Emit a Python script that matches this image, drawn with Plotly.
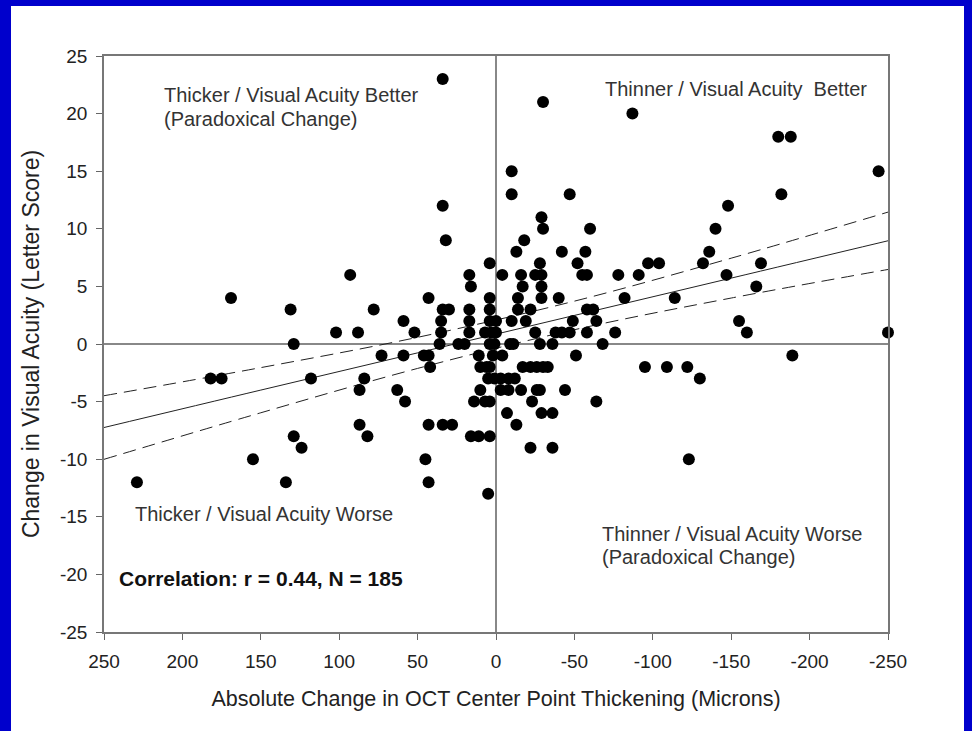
import plotly.graph_objects as go

# Absolute change in OCT center point thickening (microns) and change in
# visual acuity (letter score), one entry per eye.
thickness_change = [
    34,
    -30,
    -87,
    -180, -188,
    -10, -244,
    -10, -47, -182,
    34, -148,
    -29,
    -30, -60, -140,
    32, -18,
    -13, -42, -57, -136,
    4, -28, -52, -97, -104, -132, -169,
    93, 17, -4, -16, -25, -29, -55, -58, -78, -91, -147,
    16, -17, -29, -166,
    169, 43, 4, -14, -29, -40, -82, -114,
    131, 78, 34, 30, 17, 4, -14, -22, -58, -62,
    59, 35, 17, 4, 0, -10, -19, -49, -64, -155,
    102, 88, 52, 35, 17, 7, 3, 0, -25, -38, -42, -47, -58, -76, -160, -250,
    129, 36, 24, 20, 4, 1, -9, -11, -28, -36, -68,
    73, 59, 46, 43, 11, 2, -4, -51, -189,
    42, 10, 6, 4, -17, -22, -26, -30, -33, -95, -109, -122,
    182, 175, 118, 84, 5, 1, -3, -8, -12, -130,
    87, 63, 10, -3, -8, -16, -26, -28, -44,
    58, 14, 7, 4, -23, -64,
    -7, -29, -36,
    87, 43, 34, 28, -13,
    129, 82, 16, 11, 4,
    124, -22, -36,
    155, 45, -123,
    229, 134, 43,
    5,
]
va_change = [
    23,
    21,
    20,
    18, 18,
    15, 15,
    13, 13, 13,
    12, 12,
    11,
    10, 10, 10,
    9, 9,
    8, 8, 8, 8,
    7, 7, 7, 7, 7, 7, 7,
    6, 6, 6, 6, 6, 6, 6, 6, 6, 6, 6,
    5, 5, 5, 5,
    4, 4, 4, 4, 4, 4, 4, 4,
    3, 3, 3, 3, 3, 3, 3, 3, 3, 3,
    2, 2, 2, 2, 2, 2, 2, 2, 2, 2,
    1, 1, 1, 1, 1, 1, 1, 1, 1, 1, 1, 1, 1, 1, 1, 1,
    0, 0, 0, 0, 0, 0, 0, 0, 0, 0, 0,
    -1, -1, -1, -1, -1, -1, -1, -1, -1,
    -2, -2, -2, -2, -2, -2, -2, -2, -2, -2, -2, -2,
    -3, -3, -3, -3, -3, -3, -3, -3, -3, -3,
    -4, -4, -4, -4, -4, -4, -4, -4, -4,
    -5, -5, -5, -5, -5, -5,
    -6, -6, -6,
    -7, -7, -7, -7, -7,
    -8, -8, -8, -8, -8,
    -9, -9, -9,
    -10, -10, -10,
    -12, -12, -12,
    -13,
]

# Regression line and 95% confidence limits, sampled along the x axis
band_x = [250, 150, 50, -50, -150, -250]
fit_y = [-7.25, -4.0, -0.77, 2.48, 5.72, 8.96]
upper_y = [-4.49, -2.05, 0.58, 3.72, 7.45, 11.45]
lower_y = [-10.01, -5.97, -2.12, 1.24, 3.99, 6.47]

x_ticks = [250, 200, 150, 100, 50, 0, -50, -100, -150, -200, -250]
y_ticks = [25, 20, 15, 10, 5, 0, -5, -10, -15, -20, -25]
stat_label = "Correlation: r = 0.44, N = 185"

fig = go.Figure()
fig.add_trace(go.Scatter(x=band_x, y=fit_y, mode="lines",
                         line=dict(color="#222222", width=1, shape="spline"),
                         hoverinfo="skip"))
for band in (upper_y, lower_y):
    fig.add_trace(go.Scatter(x=band_x, y=band, mode="lines",
                             line=dict(color="#222222", width=1, dash="13px,7px",
                                       shape="spline"),
                             hoverinfo="skip"))
fig.add_trace(go.Scatter(x=thickness_change, y=va_change, mode="markers",
                         marker=dict(color="black", size=12, line=dict(width=0)),
                         cliponaxis=False))

L, R, T, B = 104, 888, 56, 632
W, H = 972, 731
pw, ph = R - L, B - T


def px(xp):
    return (xp - L) / pw


def py(yp):
    return (B - yp) / ph


sans = "Liberation Sans, Arial, sans-serif"
text_font = dict(family=sans, size=20, color="#333333")
notes = [
    ("Thicker / Visual Acuity Better", 162, 95),
    ("(Paradoxical Change)", 162, 119),
    ("Thinner / Visual Acuity  Better", 603, 89),
    ("Thicker / Visual Acuity Worse", 133, 514),
    ("Thinner / Visual Acuity Worse", 600, 534),
    ("(Paradoxical Change)", 600, 557),
]
annotations = [dict(text=t, x=px(a), y=py(b), xref="paper", yref="paper",
                    xanchor="left", yanchor="middle", showarrow=False, font=text_font)
               for t, a, b in notes]
annotations.append(dict(text="<b>" + stat_label + "</b>", x=px(117), y=py(578),
                        xref="paper", yref="paper", xanchor="left", yanchor="middle",
                        showarrow=False,
                        font=dict(family=sans, size=21, color="#111111")))

tick_font = dict(family="Liberation Sans Narrow, Arial Narrow, Liberation Sans, sans-serif",
                 size=19, color="#222222")
axis_common = dict(showgrid=False, ticks="outside", ticklen=6, tickwidth=1,
                   tickcolor="#666666", linecolor="#777777", linewidth=1.5,
                   mirror=True, zeroline=True, zerolinecolor="#888888",
                   zerolinewidth=1.5, tickfont=tick_font)

fig.update_layout(
    width=W, height=H,
    margin=dict(l=L, r=W - R, t=T, b=H - B),
    paper_bgcolor="#0000cc",
    plot_bgcolor="white",
    showlegend=False,
    xaxis=dict(range=[250, -250], tickvals=x_ticks, ticktext=[str(v) for v in x_ticks],
               ticklabelstandoff=5,
               title=dict(text="Absolute Change in OCT Center Point Thickening (Microns)",
                          font=dict(family=sans, size=21.5, color="#222222"), standoff=20),
               **axis_common),
    yaxis=dict(range=[-25, 25], tickvals=y_ticks, ticktext=[str(v) for v in y_ticks],
               ticklabelstandoff=5,
               title=dict(text="Change in Visual Acuity (Letter Score)",
                          font=dict(family=sans, size=23, color="#222222"), standoff=14),
               **axis_common),
    annotations=annotations,
    shapes=[dict(type="rect", xref="paper", yref="paper", layer="below",
                 x0=px(11), x1=px(W - 8), y0=py(H + 2), y1=py(6),
                 fillcolor="white", line=dict(width=0))],
)

fig.write_html("out.html")
